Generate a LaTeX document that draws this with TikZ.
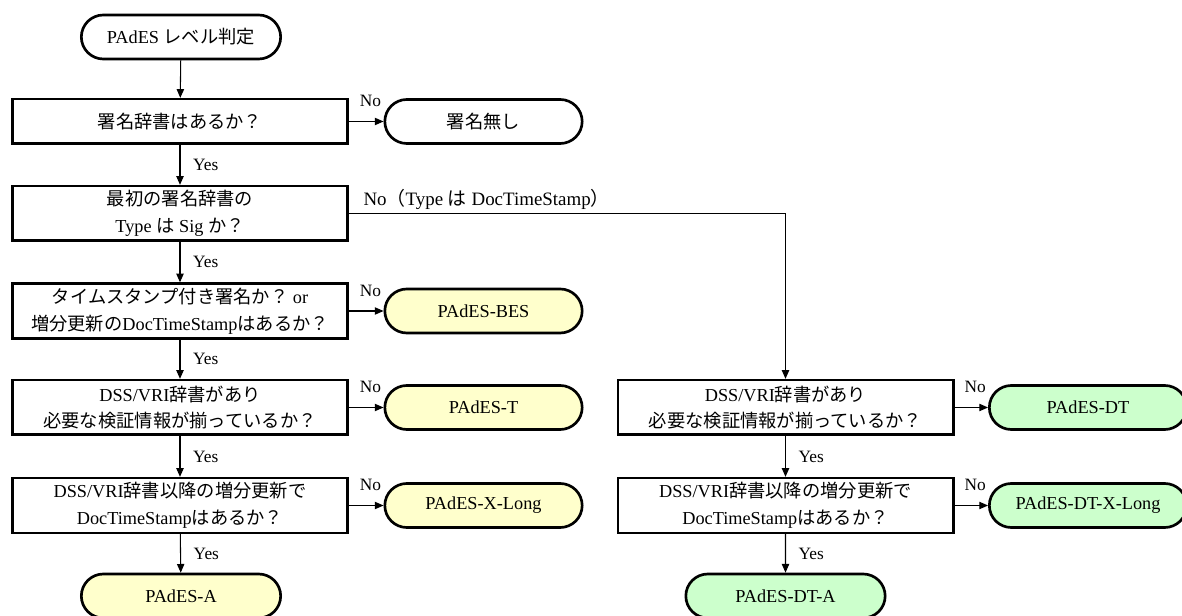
\documentclass[tikz,border=0pt]{standalone}
\usepackage{fontspec}
\setmainfont{Liberation Serif}
\newfontfamily\jpfont{Noto Sans CJK JP}
\usetikzlibrary{shapes.misc,arrows.meta}

\definecolor{levelyellow}{RGB}{255,255,204}
\definecolor{levelgreen}{RGB}{204,255,204}

\begin{document}
\begin{tikzpicture}[x=0.75pt,y=-0.75pt,
    decision/.style={draw,line width=2pt,rectangle,align=center,inner sep=2pt,
        minimum width=251.5pt,minimum height=41pt,font=\fontsize{13.7}{20}\selectfont},
    terminal/.style={draw,line width=2pt,rounded rectangle,inner xsep=1pt,
        minimum width=150pt,minimum height=33pt,font=\fontsize{13.7}{20}\selectfont},
    levelbox/.style={terminal,fill=levelyellow},
    dtbox/.style={terminal,fill=levelgreen},
    flow/.style={line width=0.8pt,-{Triangle[length=6.5pt,width=5.5pt]}},
    yeslabel/.style={anchor=west,inner sep=0pt,xshift=9.5pt,font=\fontsize{13}{15}\selectfont},
    nolabel/.style={anchor=south,inner sep=0pt,pos=0.62,yshift=10.5pt,font=\fontsize{13}{15}\selectfont}]
    \pgfmathsetmacro{\leftcol}{180}
    \pgfmathsetmacro{\rightcol}{785.5}
    \pgfmathsetmacro{\leftend}{483.5}
    \pgfmathsetmacro{\rightend}{1088}
    \useasboundingbox (0,0) rectangle (1182,616);
    % left column
    \node[terminal,minimum width=151.5pt] (start) at (\leftcol+1,37) {PAdES {\jpfont レベル判定}};
    \node[decision,minimum height=33.5pt] (hasdict) at (\leftcol,121.5) {{\jpfont 署名辞書はあるか？}};
    \node[terminal] (nosig) at (\leftend,121.5) {{\jpfont 署名無し}};
    \node[decision] (issig) at (\leftcol,213.5) {{\jpfont 最初の署名辞書の}\\Type {\jpfont は} Sig {\jpfont か？}};
    \node[decision] (hasts) at (\leftcol,311) {{\jpfont タイムスタンプ付き署名か？} or\\{\jpfont 増分更新の}DocTimeStamp{\jpfont はあるか？}};
    \node[levelbox] (bes) at (\leftend,311) {PAdES-BES};
    \node[decision] (hasdss) at (\leftcol,407.5) {DSS/VRI{\jpfont 辞書があり}\\{\jpfont 必要な検証情報が揃っているか？}};
    \node[levelbox] (t) at (\leftend,407.5) {PAdES-T};
    \node[decision] (hasarch) at (\leftcol,505.5) {DSS/VRI{\jpfont 辞書以降の増分更新で}\\DocTimeStamp{\jpfont はあるか？}};
    \node[levelbox] (xlong) at (\leftend,505.5) {PAdES-X-Long};
    \node[levelbox,minimum width=151.5pt] (a) at (\leftcol+1,596) {PAdES-A};
    % right column
    \node[decision] (dtdss) at (\rightcol,407.5) {DSS/VRI{\jpfont 辞書があり}\\{\jpfont 必要な検証情報が揃っているか？}};
    \node[dtbox] (dt) at (\rightend,407.5) {PAdES-DT};
    \node[decision] (dtarch) at (\rightcol,505.5) {DSS/VRI{\jpfont 辞書以降の増分更新で}\\DocTimeStamp{\jpfont はあるか？}};
    \node[dtbox] (dtxlong) at (\rightend,505.5) {PAdES-DT-X-Long};
    \node[dtbox,minimum width=151.5pt] (dta) at (\rightcol,596) {PAdES-DT-A};
    % connectors
    \draw[flow] (start) -- (hasdict);
    \draw[flow] (hasdict) -- node[nolabel] {No} (nosig);
    \draw[flow] (hasdict) -- node[yeslabel] {Yes} (issig);
    \draw[flow] (issig) -- node[yeslabel] {Yes} (hasts);
    \draw[flow] (issig.east) -| node[pos=0,anchor=base west,inner sep=0pt,xshift=10.5pt,yshift=6pt,font=\fontsize{14.2}{16}\selectfont] {No{\jpfont （}Type {\jpfont は} DocTimeStamp{\jpfont ）}} (dtdss.north);
    \draw[flow] (hasts) -- node[nolabel] {No} (bes);
    \draw[flow] (hasts) -- node[yeslabel] {Yes} (hasdss);
    \draw[flow] (hasdss) -- node[nolabel] {No} (t);
    \draw[flow] (hasdss) -- node[yeslabel] {Yes} (hasarch);
    \draw[flow] (hasarch) -- node[nolabel] {No} (xlong);
    \draw[flow] (hasarch) -- node[yeslabel] {Yes} (a);
    \draw[flow] (dtdss) -- node[nolabel] {No} (dt);
    \draw[flow] (dtdss) -- node[yeslabel] {Yes} (dtarch);
    \draw[flow] (dtarch) -- node[nolabel] {No} (dtxlong);
    \draw[flow] (dtarch) -- node[yeslabel] {Yes} (dta);
\end{tikzpicture}
\end{document}
